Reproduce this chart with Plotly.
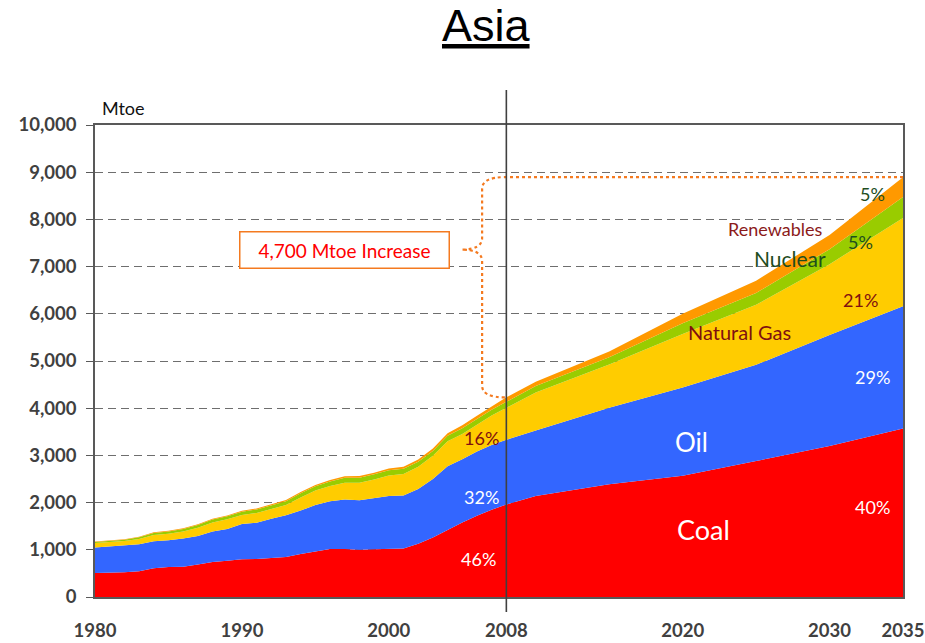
import plotly.graph_objects as go

# Primary energy demand in Asia by fuel (Mtoe): history 1980-2008, outlook to 2035
years = list(range(1980, 2009)) + [2010, 2015, 2020, 2025, 2030, 2035]

coal = [510, 510, 525, 545, 610, 635, 640, 690, 740, 770,
        800, 805, 820, 850, 910, 970, 1015, 1015, 1000, 1010,
        1025, 1030, 1130, 1260, 1420, 1580, 1720, 1850, 1960,
        2140, 2390, 2570, 2880, 3200, 3570]
oil = [540, 560, 565, 570, 570, 565, 600, 600, 650, 670,
       745, 770, 840, 880, 920, 980, 1015, 1050, 1050, 1090,
       1115, 1120, 1160, 1240, 1350, 1340, 1360, 1370, 1370,
       1390, 1620, 1870, 2040, 2350, 2590]
gas = [95, 90, 95, 115, 135, 140, 148, 175, 188, 205,
       190, 205, 202, 218, 280, 305, 320, 355, 370, 388,
       435, 455, 470, 490, 530, 535, 570, 625, 680,
       800, 915, 1130, 1270, 1500, 1870]
nuclear = [22, 25, 30, 35, 42, 50, 55, 60, 62, 65,
           70, 75, 78, 82, 88, 92, 98, 105, 108, 110,
           110, 112, 108, 105, 115, 120, 122, 120, 125,
           140, 155, 230, 250, 320, 445]
renewables = [10, 10, 11, 12, 13, 14, 15, 16, 17, 18,
              20, 21, 22, 24, 26, 28, 30, 32, 33, 35,
              38, 40, 45, 50, 55, 62, 70, 80, 95,
              92, 120, 200, 260, 300, 420]

fuels = ["Coal", "Oil", "Natural Gas", "Nuclear", "Renewables"]
series = [coal, oil, gas, nuclear, renewables]
colors = ["#FF0000", "#3366FF", "#FFCC00", "#99CC00", "#FF9900"]

x_ticks = [1980, 1990, 2000, 2008, 2020, 2030, 2035]

base_year, end_year = 2008, 2035
i_base = years.index(base_year)
i_end = years.index(end_year)
total_base = sum(s[i_base] for s in series)
total_end = sum(s[i_end] for s in series)


def share(s, i, total):
    return f"{round(s[i] / total * 100)}%"


fig = go.Figure()
for name, s, c in zip(fuels, series, colors):
    fig.add_trace(go.Scatter(
        x=years, y=s, name=name, mode="lines",
        stackgroup="fuel", line=dict(width=0, color=c),
        fillcolor=c, showlegend=False, hoverinfo="x+y+name",
    ))

BODY = "Lato, 'Open Sans', sans-serif"
annotations = []


def label(text, x, y, color, size, xref="x", yref="y", **kw):
    annotations.append(dict(text=text, x=x, y=y, xref=xref, yref=yref,
                            showarrow=False, font=dict(family=BODY, size=size, color=color), **kw))


# Fuel names
label("Coal", 2021.45, 1420, "white", 27)
label("Oil", 2020.6, 3280, "white", 26)
label("Natural Gas", 2023.9, 5610, "#7F1010", 20)
label("Nuclear", 2027.3, 7180, "#1E4D1E", 21)
label("Renewables", 2026.3, 7790, "#8B1A1A", 18)

# Shares in 2008
label(share(coal, i_base, total_base), 2006.1, 795, "white", 18)
label(share(oil, i_base, total_base), 2006.3, 2110, "white", 18)
label(share(gas, i_base, total_base), 2006.3, 3360, "#7F1010", 18)

# Shares in 2035
label(share(coal, i_end, total_end), 2032.9, 1910, "white", 18)
label(share(oil, i_end, total_end), 2032.9, 4660, "white", 18)
label(share(gas, i_end, total_end), 2032.1, 6300, "#7F1010", 18)
label(share(nuclear, i_end, total_end), 2032.1, 7520, "#1E4D1E", 18)
label(share(renewables, i_end, total_end), 2032.9, 8540, "#1E4D1E", 18)

# Increase call-out box
increase = round((total_end - total_base) / 100) * 100
box_x, box_y = 1996.95, 7360
annotations.append(dict(
    text=f"{increase:,} Mtoe Increase", x=box_x, y=box_y, xref="x", yref="y",
    showarrow=False, font=dict(family=BODY, size=19, color="#FF0000"),
    bgcolor="white", bordercolor="#F47A20", borderwidth=1.5, borderpad=2,
    width=204, height=31,
))

# Unit label and title
label("Mtoe", 0.006, 1.036, "#111111", 18, xref="paper", yref="paper",
      xanchor="left", yanchor="middle")
annotations.append(dict(
    text="<u>Asia</u>", x=0.485, y=1.21, xref="paper", yref="paper",
    showarrow=False, xanchor="center", yanchor="middle",
    font=dict(family="Liberation Sans, Arial, sans-serif", size=45, color="black"),
))

# Curly brace spanning the increase from 2008 to 2035
bx, tipx, armx = 2006.35, 2004.95, 2007.9
r = 250
brace = (
    f"M {end_year},{total_end} L {armx},{total_end} "
    f"Q {bx},{total_end} {bx},{total_end - r} "
    f"L {bx},{box_y + r} Q {bx},{box_y} {tipx},{box_y} "
    f"Q {bx},{box_y} {bx},{box_y - r} "
    f"L {bx},{total_base + r} Q {bx},{total_base} {armx},{total_base}"
)
shapes = [
    dict(type="path", path=brace, xref="x", yref="y",
         line=dict(color="#F47A20", width=2.2, dash="dot")),
    dict(type="line", xref="x", yref="paper", x0=base_year, x1=base_year,
         y0=-0.032, y1=1.074, line=dict(color="#404040", width=1.6)),
]

AXIS_FONT = dict(family=BODY, size=18.5, color="#404040", weight="bold")

fig.update_layout(
    width=925, height=643,
    margin=dict(l=95, r=22, t=125, b=46),
    paper_bgcolor="white", plot_bgcolor="white",
    annotations=annotations, shapes=shapes,
    xaxis=dict(
        range=[1980, 2035], tickmode="array", tickvals=x_ticks,
        ticktext=[str(t) for t in x_ticks], tickfont=AXIS_FONT,
        showgrid=False, zeroline=False, ticks="",
        showline=True, linecolor="#595959", linewidth=1.5, mirror=True,
        ticklabelstandoff=16, ticklabeloverflow="allow", automargin=False,
    ),
    yaxis=dict(
        range=[0, 10000], dtick=1000, tickformat=",", tickfont=AXIS_FONT,
        showgrid=True, gridcolor="#6E6E6E", gridwidth=1.2, griddash="8px,5px",
        zeroline=False, ticks="outside", ticklen=7, tickcolor="#595959", tickwidth=1.3,
        showline=True, linecolor="#595959", linewidth=1.5, mirror=True,
        ticklabelstandoff=6, automargin=False,
    ),
    hovermode=False,
)

fig.write_html("out.html")
